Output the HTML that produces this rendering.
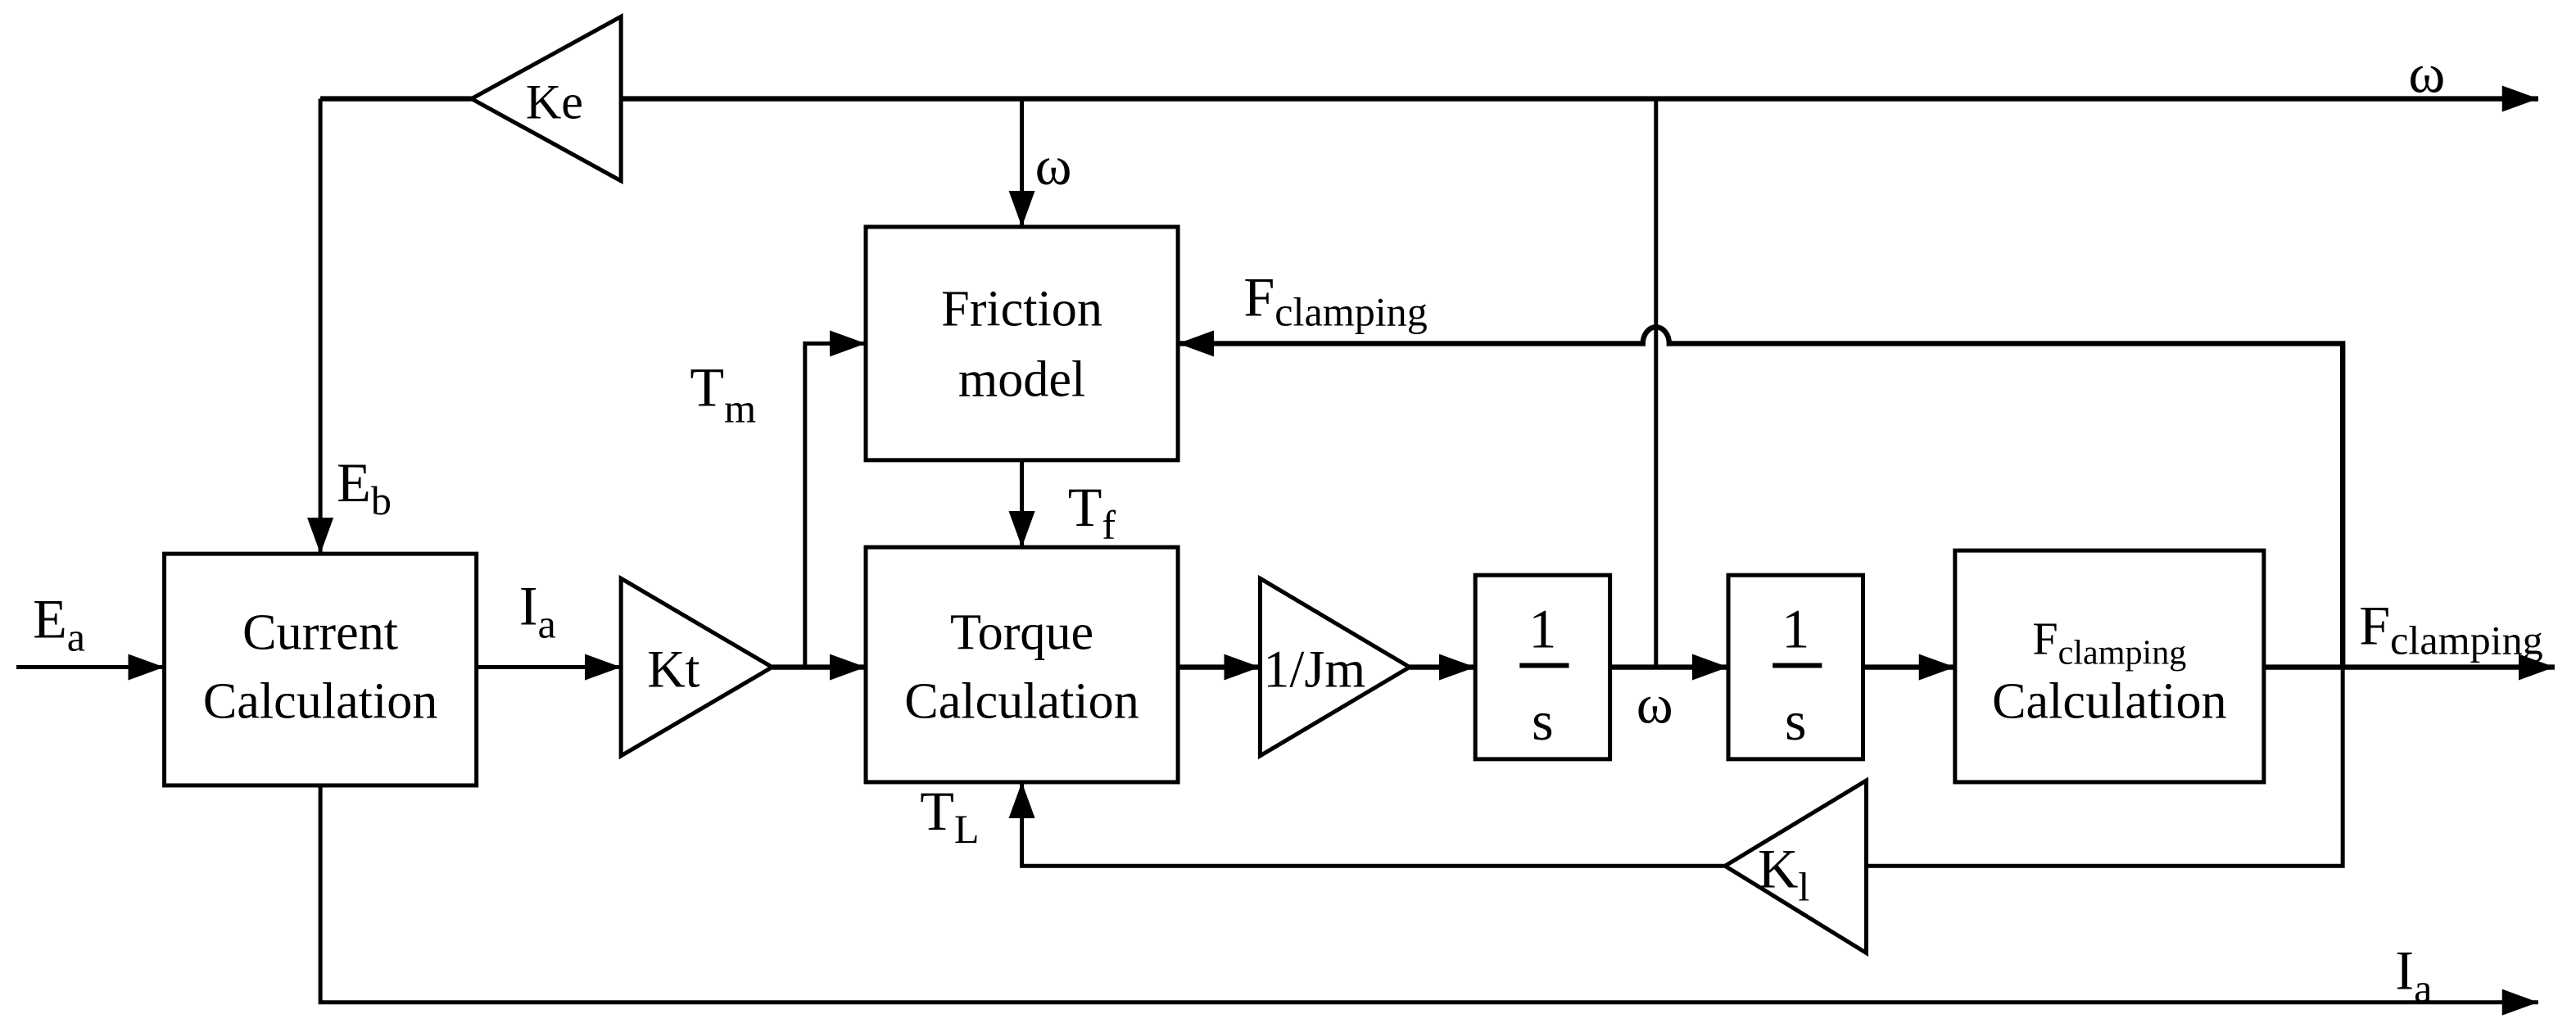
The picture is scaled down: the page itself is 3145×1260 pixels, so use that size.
<!DOCTYPE html>
<html><head><meta charset="utf-8"><style>html,body{margin:0;padding:0;background:#fff}svg{display:block}text{font-family:"Liberation Serif","Times New Roman","DejaVu Serif",serif;fill:#000}</style></head>
<body>
<svg width="3145" height="1260" viewBox="0 0 1568 628" xmlns="http://www.w3.org/2000/svg">
<defs>
<marker id="b" markerWidth="22" markerHeight="16" refX="22" refY="8" orient="auto" markerUnits="userSpaceOnUse" viewBox="0 0 22 16"><path d="M0,0 L22,8 L0,16 Z" fill="#000"/></marker></defs>
<g stroke="#000" stroke-width="2.5" fill="none">
<polygon points="287,60 378,10 378,110" fill="#fff"/>
<line x1="195" y1="60" x2="287" y2="60" stroke-width="3.2"/>
<line x1="378" y1="60" x2="1545" y2="60" stroke-width="3.2" marker-end="url(#b)"/>
<line x1="195" y1="60" x2="195" y2="337" marker-end="url(#b)"/>
<rect x="100" y="337" width="190" height="141"/>
<line x1="10" y1="406" x2="100" y2="406" marker-end="url(#b)"/>
<line x1="290" y1="406" x2="378" y2="406" marker-end="url(#b)"/>
<polygon points="378,352 470,406 378,460"/>
<line x1="470" y1="406" x2="527" y2="406" stroke-width="3.2" marker-end="url(#b)"/>
<polyline points="490,406 490,209 527,209" marker-end="url(#b)"/>
<rect x="527" y="138" width="190" height="142"/>
<line x1="622" y1="60" x2="622" y2="138" marker-end="url(#b)"/>
<line x1="622" y1="280" x2="622" y2="333" marker-end="url(#b)"/>
<rect x="527" y="333" width="190" height="143"/>
<line x1="717" y1="406" x2="767" y2="406" stroke-width="3.2" marker-end="url(#b)"/>
<polygon points="767,352 858,406 767,460"/>
<line x1="858" y1="406" x2="898" y2="406" stroke-width="3.2" marker-end="url(#b)"/>
<rect x="898" y="350" width="82" height="112"/>
<line x1="980" y1="406" x2="1052" y2="406" stroke-width="3.2" marker-end="url(#b)"/>
<line x1="1008" y1="406" x2="1008" y2="60"/>
<rect x="1052" y="350" width="82" height="112"/>
<line x1="1134" y1="406" x2="1190" y2="406" stroke-width="3.2" marker-end="url(#b)"/>
<rect x="1190" y="335" width="188" height="141"/>
<line x1="1378" y1="406" x2="1555" y2="406" stroke-width="3.2" marker-end="url(#b)"/>
<path d="M1426,406 L1426,209 L1016,209 A8,10 0 0 0 1000,209 L717,209" stroke-width="3.2" marker-end="url(#b)"/>
<polyline points="1426,406 1426,527 1136,527"/>
<polygon points="1050,527 1136,475 1136,580" fill="#fff"/>
<polyline points="1050,527 622,527 622,476" marker-end="url(#b)"/>
<polyline points="195,478 195,610 1545,610" marker-end="url(#b)"/>
<line x1="925" y1="405" x2="955" y2="405" stroke-width="3"/>
<line x1="1079" y1="405" x2="1109" y2="405" stroke-width="3"/>
</g>
<g font-size="34" font-family="Liberation Serif, Times New Roman, DejaVu Serif, serif">
<text x="320" y="72" font-size="30">Ke</text>
<text x="1466" y="56">ω</text>
<text x="630" y="112">ω</text>
<text x="205" y="305">E<tspan font-size="25" dy="8">b</tspan></text>
<text x="20" y="388">E<tspan font-size="25" dy="8">a</tspan></text>
<text x="316" y="380">I<tspan font-size="25" dy="8">a</tspan></text>
<text x="420" y="247">T<tspan font-size="25" dy="10">m</tspan></text>
<text x="650" y="320">T<tspan font-size="25" dy="8">f</tspan></text>
<text x="560" y="505">T<tspan font-size="25" dy="8">L</tspan></text>
<text x="757" y="192">F<tspan font-size="25" dy="6">clamping</tspan></text>
<text x="1436" y="392">F<tspan font-size="25" dy="6">clamping</tspan></text>
<text x="1458" y="602">I<tspan font-size="25" dy="8">a</tspan></text>
<text x="996" y="440">ω</text>
<text x="394" y="418" font-size="32">Kt</text>
<text x="769" y="418" font-size="32">1/Jm</text>
<text x="1070" y="540">K<tspan font-size="25" dy="8">l</tspan></text>
<text x="939" y="394" text-anchor="middle">1</text>
<text x="939" y="450" text-anchor="middle">s</text>
<text x="1093" y="394" text-anchor="middle">1</text>
<text x="1093" y="450" text-anchor="middle">s</text>
<g text-anchor="middle" font-size="31">
<text x="195" y="395">Current</text><text x="195" y="437">Calculation</text>
<text x="622" y="198">Friction</text><text x="622" y="241">model</text>
<text x="622" y="395">Torque</text><text x="622" y="437">Calculation</text>
<text x="1284" y="398" font-size="28">F<tspan font-size="21" dy="6">clamping</tspan></text><text x="1284" y="437">Calculation</text>
</g>
</g>
</svg>
</body></html>
